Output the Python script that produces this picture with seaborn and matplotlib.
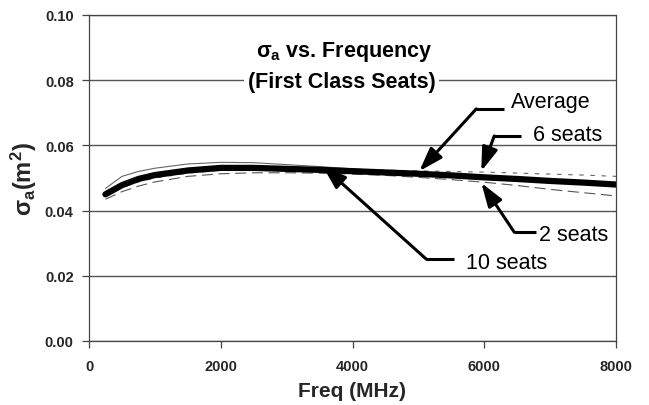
import matplotlib
matplotlib.use("Agg")
import matplotlib.pyplot as plt
import seaborn as sns
import pandas as pd

freq = [250, 500, 750, 1000, 1500, 2000, 2500, 3000, 3500, 4000,
        4500, 5000, 5500, 6000, 6500, 7000, 7500, 8000]
avg = [0.0450, 0.0478, 0.0497, 0.0509, 0.0523, 0.0531, 0.0531, 0.0528, 0.0525, 0.0521,
       0.0517, 0.0513, 0.0508, 0.0502, 0.0497, 0.0491, 0.0486, 0.0480]
seats2 = [0.0435, 0.0458, 0.0475, 0.0488, 0.0505, 0.0513, 0.0516, 0.0516, 0.0515, 0.0512,
          0.0508, 0.0502, 0.0495, 0.0487, 0.0477, 0.0465, 0.0455, 0.0445]
seats6 = [0.0445, 0.0470, 0.0488, 0.0500, 0.0515, 0.0524, 0.0528, 0.0528, 0.0527, 0.0526,
          0.0524, 0.0522, 0.0520, 0.0518, 0.0515, 0.0512, 0.0509, 0.0505]
seats10 = [0.0468, 0.0505, 0.0520, 0.0530, 0.0543, 0.0548, 0.0547, 0.0541, 0.0535, 0.0528,
           0.0521, 0.0515, 0.0509, 0.0503, 0.0497, 0.0491, 0.0485, 0.0479]

x_ticks = [0, 2000, 4000, 6000, 8000]
y_ticks = [0.00, 0.02, 0.04, 0.06, 0.08, 0.10]

sns.set_theme(style="white")
plt.rcParams['font.family'] = ['Liberation Sans', 'DejaVu Sans']
plt.rcParams['mathtext.fontset'] = 'custom'
plt.rcParams['mathtext.rm'] = 'Liberation Sans:bold'
plt.rcParams['mathtext.it'] = 'Liberation Sans:bold'
plt.rcParams['mathtext.bf'] = 'Liberation Sans:bold'

fig = plt.figure(figsize=(6.49, 4.06), dpi=100)
ax = fig.add_axes([89/649, 1-342/406, (616-89)/649, (342-16)/406])

df = pd.DataFrame({"freq": freq, "avg": avg, "s2": seats2, "s6": seats6, "s10": seats10})

sns.lineplot(data=df, x="freq", y="s10", ax=ax, color="#666666", lw=0.8, linestyle="-")
sns.lineplot(data=df, x="freq", y="s6", ax=ax, color="#666666", lw=0.8, linestyle=(0, (4, 6)))
sns.lineplot(data=df, x="freq", y="s2", ax=ax, color="#555555", lw=0.8, linestyle=(0, (10, 5)))
sns.lineplot(data=df, x="freq", y="avg", ax=ax, color="black", lw=4.5, solid_capstyle="round")

ax.set_xlim(0, 8000)
ax.set_ylim(0, 0.10)
ax.set_xticks(x_ticks)
ax.set_yticks(y_ticks)
ax.set_xticklabels([str(v) for v in x_ticks], fontsize=10.5, fontweight="bold")
ax.set_yticklabels([f"{v:.2f}" for v in y_ticks], fontsize=10.5, fontweight="bold")
ax.grid(axis="y", color="#555555", lw=1.0)
ax.grid(axis="x", visible=False)
ax.set_axisbelow(True)
for s in ax.spines.values():
    s.set_visible(True)
    s.set_color("#444444")
    s.set_linewidth(0.9)
ax.tick_params(axis="x", which="both", direction="out", length=5, width=0.9,
               color="#444444", pad=8, bottom=True)
ax.tick_params(axis="y", which="both", direction="out", length=5, width=0.9,
               color="#444444", pad=6, left=True)

ax.set_xlabel("Freq (MHz)", fontsize=15, fontweight="bold", labelpad=6)
ax.set_ylabel(r"$\sigma_a(m^2)$", fontsize=17, labelpad=4)

ax.text(3880, 0.0889, r"σ$_{\mathregular{a}}$ vs. Frequency", ha="center", va="center",
        fontsize=15.5, fontweight="bold", color="black")
ax.text(3833, 0.0795, "(First Class Seats)", ha="center", va="center",
        fontsize=15.5, fontweight="bold", color="black",
        bbox=dict(facecolor="white", edgecolor="none", pad=3))

ann = [
    ("Average", (6409, 0.0736), (6303, 0.0712), (5879, 0.0712), (5015, 0.0521)),
    ("6 seats", (6742, 0.0632), (6561, 0.0629), (6152, 0.0629), (5955, 0.0521)),
    ("2 seats", (6833, 0.0328), (6788, 0.0334), (6455, 0.0334), (5955, 0.0485)),
    ("10 seats", (5727, 0.0242), (5545, 0.0251), (5121, 0.0251), (3545, 0.0537)),
]
for label, tpos, start, elbow, tip in ann:
    ax.text(tpos[0], tpos[1], label, ha="left", va="center", fontsize=15.5, color="black")
    ax.plot([start[0], elbow[0]], [start[1], elbow[1]], color="black", lw=2.2,
            solid_capstyle="butt")
    ax.annotate("", xy=tip, xytext=elbow,
                arrowprops=dict(arrowstyle="-|>,head_length=1.2,head_width=0.4",
                                color="black", lw=2.2, shrinkA=0, shrinkB=0))

fig.savefig("out.png", dpi=100)
